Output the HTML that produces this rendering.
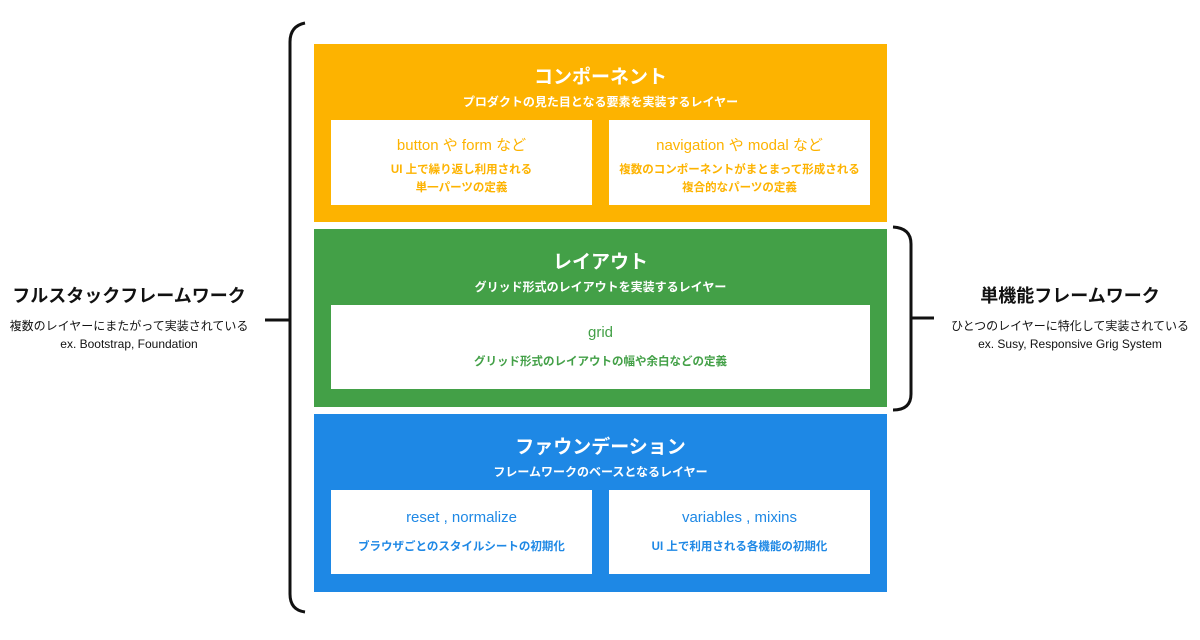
<!DOCTYPE html>
<html><head><meta charset="utf-8"><style>
body{margin:0;width:1200px;height:640px;background:#fff;position:relative;overflow:hidden;font-family:"Liberation Sans","Noto Sans CJK JP",sans-serif;font-weight:bold}
.a{position:absolute;text-align:center;white-space:nowrap}
.layer{position:absolute;left:314px;width:573px;height:178px;color:#fff}
.layer .t{position:absolute;left:0;right:0;top:18px;font-size:19px;text-align:center}
.layer .s{position:absolute;left:0;right:0;top:49px;font-size:12px;text-align:center}
.box{position:absolute;background:#fff;top:76px;height:85px;text-align:center}
.box .h{margin-top:14px;font-size:15px;font-weight:normal}
.box .d{font-size:11.5px;line-height:18px;margin-top:6px}
</style></head><body>
<svg width="1200" height="640" style="position:absolute;left:0;top:0">
<path d="M305 23 Q290 26 290 42 L290 594 Q290 610 305 612" fill="none" stroke="#111" stroke-width="3"/>
<line x1="265" y1="320" x2="290" y2="320" stroke="#111" stroke-width="3"/>
<path d="M893 227 Q911 228 911 244 L911 394 Q911 410 893 410" fill="none" stroke="#111" stroke-width="3"/>
<line x1="911" y1="318" x2="934" y2="318" stroke="#111" stroke-width="3"/>
</svg>
<div class="layer" style="top:44px;background:#fdb300">
<div class="t">コンポーネント</div><div class="s">プロダクトの見た目となる要素を実装するレイヤー</div>
<div class="box" style="left:17px;width:261px;color:#fdb300"><div class="h">button や form など</div><div class="d">UI 上で繰り返し利用される<br>単一パーツの定義</div></div>
<div class="box" style="left:295px;width:261px;color:#fdb300"><div class="h">navigation や modal など</div><div class="d">複数のコンポーネントがまとまって形成される<br>複合的なパーツの定義</div></div>
</div>
<div class="layer" style="top:229px;background:#43a047">
<div class="t">レイアウト</div><div class="s">グリッド形式のレイアウトを実装するレイヤー</div>
<div class="box" style="left:17px;width:539px;color:#43a047;height:84px"><div class="h" style="margin-top:19px">grid</div><div class="d" style="margin-top:12px">グリッド形式のレイアウトの幅や余白などの定義</div></div>
</div>
<div class="layer" style="top:414px;background:#1e88e5">
<div class="t">ファウンデーション</div><div class="s">フレームワークのベースとなるレイヤー</div>
<div class="box" style="left:17px;width:261px;color:#1e88e5;height:84px"><div class="h" style="margin-top:19px">reset , normalize</div><div class="d" style="margin-top:12px">ブラウザごとのスタイルシートの初期化</div></div>
<div class="box" style="left:295px;width:261px;color:#1e88e5;height:84px"><div class="h" style="margin-top:19px">variables , mixins</div><div class="d" style="margin-top:12px">UI 上で利用される各機能の初期化</div></div>
</div>
<div class="a" style="left:0;width:258px;top:282px;font-size:18px;color:#111">フルスタックフレームワーク</div>
<div class="a" style="left:0;width:258px;top:317px;font-size:12px;line-height:18px;color:#111;font-weight:normal">複数のレイヤーにまたがって実装されている<br>ex. Bootstrap, Foundation</div>
<div class="a" style="left:945px;width:250px;top:282px;font-size:18px;color:#111">単機能フレームワーク</div>
<div class="a" style="left:945px;width:250px;top:317px;font-size:12px;line-height:18px;color:#111;font-weight:normal">ひとつのレイヤーに特化して実装されている<br>ex. Susy, Responsive Grig System</div>
</body></html>
